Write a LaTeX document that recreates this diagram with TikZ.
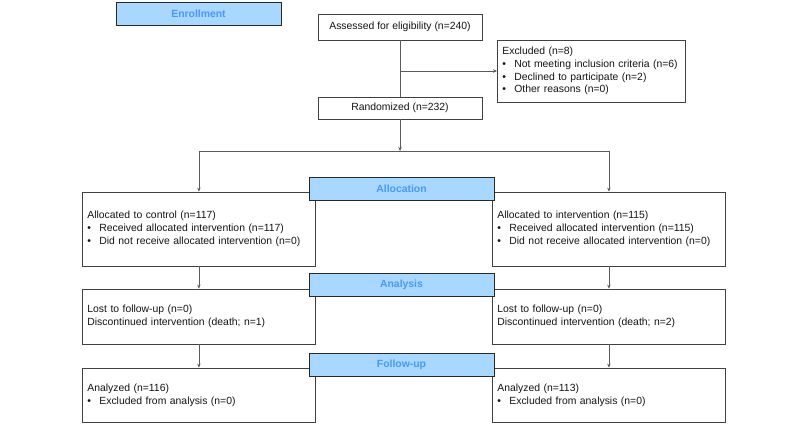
\documentclass[tikz,border=0pt]{standalone}
\usepackage{fontspec}
\setmainfont{Liberation Sans}
\usetikzlibrary{arrows.meta}
\newcommand{\bul}[1]{\makebox[12pt][l]{\textbullet}#1}
\begin{document}
\begin{tikzpicture}[x=1pt,y=-1pt,
  box/.style={draw={rgb,255:red,64;green,64;blue,64},line width=0.8pt,fill=white,inner xsep=5pt,inner ysep=0pt,align=left,text={rgb,255:red,20;green,20;blue,20},font=\fontsize{10.4}{12.7}\selectfont},
  armbox/.style={box,text width=223pt,anchor=west},
  headbox/.style={draw={rgb,255:red,40;green,40;blue,40},line width=0.9pt,fill={rgb,255:red,168;green,216;blue,255},minimum height=23pt,inner sep=0pt,text={rgb,255:red,72;green,152;blue,245},font=\bfseries\fontsize{10.4}{12.7}\selectfont},
  link/.style={draw={rgb,255:red,90;green,90;blue,90},line width=0.8pt},
  tip/.style={link,-{Stealth[length=4pt,width=3.5pt]}}]
\path[use as bounding box] (0,0) rectangle (800,424);
% enrollment
\node[box,minimum width=164pt,minimum height=26pt,align=center] (assess) at (400,27) {Assessed for eligibility (n=240)};
\node[box,text width=178pt,minimum height=62pt,anchor=west] (excl) at (497,71) {Excluded (n=8)\\\bul{Not meeting inclusion criteria (n=6)}\\\bul{Declined to participate (n=2)}\\\bul{Other reasons (n=0)}};
\node[box,minimum width=164pt,minimum height=22pt,align=center] (rand) at (400,108) {Randomized (n=232)};
\coordinate (split) at (400,151);
% allocation
\node[armbox,minimum height=74pt] (ctrl) at (82,229) {Allocated to control (n=117)\\\bul{Received allocated intervention (n=117)}\\\bul{Did not receive allocated intervention (n=0)}};
\node[armbox,minimum height=74pt] (intv) at (492,229) {Allocated to intervention (n=115)\\\bul{Received allocated intervention (n=115)}\\\bul{Did not receive allocated intervention (n=0)}};
% analysis
\node[armbox,minimum height=55pt] (ctrllost) at (82,316.5) {Lost to follow-up (n=0)\\Discontinued intervention (death; n=1)};
\node[armbox,minimum height=55pt] (intvlost) at (492,316.5) {Lost to follow-up (n=0)\\Discontinued intervention (death; n=2)};
% follow-up
\node[armbox,minimum height=54pt] (ctrlana) at (82,395) {Analyzed (n=116)\\\bul{Excluded from analysis (n=0)}};
\node[armbox,minimum height=54pt] (intvana) at (492,395) {Analyzed (n=113)\\\bul{Excluded from analysis (n=0)}};
% connectors
\draw[link] (assess.south) -- (rand.north);
\draw[tip] (assess.south |- excl.west) -- (excl.west);
\draw[tip] (rand.south) -- (split);
\draw[link] (ctrl.north |- split) -- (intv.north |- split);
\draw[tip] (ctrl.north |- split) -- (ctrl.north);
\draw[tip] (intv.north |- split) -- (intv.north);
\draw[tip] (ctrl.south) -- (ctrllost.north);
\draw[tip] (intv.south) -- (intvlost.north);
\draw[tip] (ctrllost.south) -- (ctrlana.north);
\draw[tip] (intvlost.south) -- (intvana.north);
% stage headers
\node[headbox,minimum width=165pt] (enroll) at (198.5,14) {Enrollment};
\node[headbox,minimum width=185pt] (alloc) at (401.5,188.5) {Allocation};
\node[headbox,minimum width=185pt] (analysis) at (401.5,284.5) {Analysis};
\node[headbox,minimum width=185pt] (follow) at (401.5,364.5) {Follow-up};
\end{tikzpicture}
\end{document}
